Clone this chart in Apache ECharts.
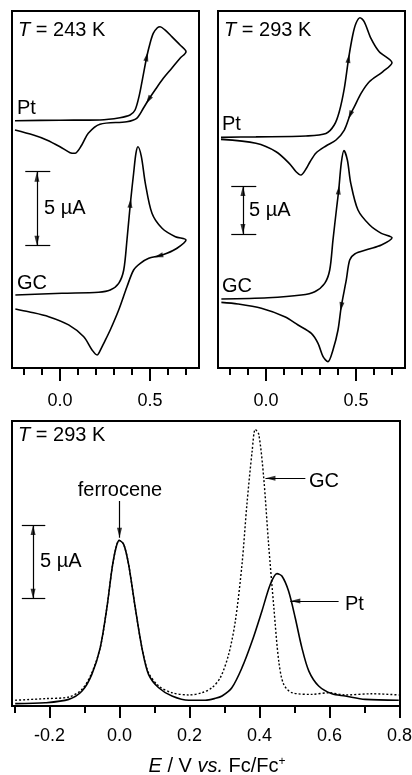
<!DOCTYPE html>
<html>
<head>
<meta charset="utf-8">
<script src="https://cdn.jsdelivr.net/npm/echarts@6/dist/echarts.min.js"></script>
<style>
html,body{margin:0;padding:0;background:#fff;}
#chart{width:412px;height:775px;}
</style>
</head>
<body>
<div id="chart"></div>
<script>
// ---------------- DATA ----------------
// x-axis tick values (V vs. Fc/Fc+)
const topMajorTicks = [0.0, 0.5];
const topMinorTicks = [-0.2, -0.1, 0.1, 0.2, 0.3, 0.4, 0.6, 0.7];
const botMajorTicks = [-0.2, 0.0, 0.2, 0.4, 0.6, 0.8];
const botMinorTicks = [-0.3, -0.1, 0.1, 0.3, 0.5, 0.7];

// Cyclic voltammograms, [E (V), I (µA)] in scan order (forward then reverse)
const cvPt243 = [
  [-0.25,16.71],[0.0,16.74],[0.222,16.76],[0.333,16.91],[0.389,17.09],[0.417,17.43],
  [0.441,18.45],[0.459,19.57],[0.482,21.03],[0.5,21.93],[0.518,22.61],[0.541,22.99],
  [0.556,23.06],[0.583,22.84],[0.621,22.39],[0.667,21.82],[0.7,21.37],
  [0.667,20.93],[0.621,20.25],[0.574,19.57],[0.528,18.78],[0.491,18.11],[0.463,17.55],
  [0.426,16.87],[0.371,16.64],[0.222,16.47],[0.157,15.86],[0.121,15.07],[0.083,14.51],
  [0.056,14.55],[0.0,14.95],[-0.074,15.41],[-0.148,15.74],[-0.25,16.08]
];
const cvGc243 = [
  [-0.248,4.93],[0.011,5.05],[0.215,5.12],[0.279,5.27],[0.326,5.72],[0.354,6.62],
  [0.372,8.65],[0.391,11.13],[0.409,13.16],[0.422,14.51],[0.433,14.95],[0.452,14.28],
  [0.474,12.48],[0.511,10.45],[0.567,9.44],[0.641,8.87],[0.7,8.65],
  [0.65,8.09],[0.594,7.75],[0.548,7.57],[0.493,7.41],[0.446,7.07],[0.409,6.62],
  [0.372,5.49],[0.326,3.92],[0.279,2.57],[0.243,1.67],[0.215,0.99],[0.206,0.88],
  [0.178,1.22],[0.132,2.11],[0.048,2.91],[-0.063,3.47],[-0.174,3.80],[-0.248,3.99]
];
const cvPt293 = [
  [-0.25,24.03],[-0.056,24.08],[0.222,24.17],[0.333,24.43],[0.379,25.31],[0.407,26.70],
  [0.435,29.14],[0.459,32.26],[0.482,34.69],[0.5,35.91],[0.522,36.49],[0.546,36.07],
  [0.583,34.34],[0.629,32.95],[0.7,31.80],
  [0.648,30.86],[0.574,29.82],[0.528,28.61],[0.491,27.22],[0.467,26.35],[0.435,24.79],
  [0.389,23.75],[0.333,23.13],[0.278,22.40],[0.244,21.46],[0.222,20.73],[0.194,20.10],
  [0.167,20.45],[0.129,21.32],[0.056,22.53],[-0.056,23.41],[-0.25,23.82]
];
const cvGc293 = [
  [-0.248,7.19],[0.011,7.32],[0.196,7.60],[0.271,7.95],[0.326,8.82],[0.354,10.21],
  [0.372,13.33],[0.391,16.46],[0.404,18.54],[0.418,21.32],[0.433,22.64],[0.452,21.67],
  [0.471,19.24],[0.511,16.46],[0.576,14.90],[0.641,14.03],[0.7,13.57],
  [0.641,12.81],[0.567,12.36],[0.493,11.88],[0.465,11.25],[0.446,9.17],[0.418,6.39],
  [0.4,3.96],[0.372,1.88],[0.344,0.66],[0.317,1.18],[0.289,2.57],[0.252,3.61],
  [0.178,4.48],[0.104,5.34],[-0.026,6.22],[-0.156,6.67],[-0.248,6.84]
];

// Differential pulse voltammograms at 293 K, [E (V), I (µA)]
const dpvPt = [
  [-0.298,0.16],[-0.212,0.22],[-0.145,0.45],[-0.107,1.02],[-0.079,2.15],[-0.055,3.96],
  [-0.036,6.67],[-0.021,9.38],[-0.010,10.74],[-0.001,11.24],[0.012,10.97],[0.026,9.61],
  [0.045,6.67],[0.064,3.96],[0.083,2.15],[0.112,1.24],[0.150,0.68],[0.198,0.39],
  [0.245,0.39],[0.274,0.52],[0.293,0.68],[0.321,1.24],[0.350,2.60],[0.379,4.41],
  [0.407,6.45],[0.431,8.26],[0.450,8.98],[0.464,8.82],[0.483,7.80],[0.502,5.99],
  [0.521,3.96],[0.541,2.37],[0.569,1.36],[0.607,0.83],[0.645,0.68],[0.702,0.45],[0.798,0.39]
];
const dpvGc = [
  [-0.298,0.39],[-0.212,0.50],[-0.145,0.61],[-0.107,1.13],[-0.079,2.26],[-0.055,3.96],
  [-0.036,6.67],[-0.021,9.38],[-0.010,10.74],[-0.001,11.24],[0.012,10.97],[0.026,9.61],
  [0.045,6.67],[0.064,3.96],[0.083,2.26],[0.112,1.36],[0.150,0.90],[0.198,0.75],
  [0.236,0.90],[0.264,1.24],[0.288,1.92],[0.312,3.51],[0.331,5.77],[0.350,9.61],
  [0.364,13.68],[0.379,17.30],[0.388,18.77],[0.398,18.43],[0.412,15.49],[0.426,10.97],
  [0.441,6.67],[0.455,3.05],[0.469,1.47],[0.493,0.90],[0.550,0.79],[0.598,0.90],
  [0.645,0.75],[0.721,0.83],[0.798,0.75]
];

// scale bar size (µA)
const scaleBarUA = 5;

// ---------------- STYLE / LAYOUT ----------------
const FONT = '"Liberation Sans", Arial, Helvetica, sans-serif';
const BLACK = '#000';
const ARROW = 'path://M0,0L1,3L-1,3Z';
const TXT = 20;

const chart = echarts.init(document.getElementById('chart'), null, {renderer: 'canvas'});

function xPair(gridIndex, min, max, major, minor, majorLen, minorLen, margin) {
  return [
    {type:'value', gridIndex, min, max, position:'bottom',
     axisLine:{show:false}, splitLine:{show:false},
     axisTick:{show:true, inside:false, length:majorLen, customValues:major, lineStyle:{color:BLACK, width:2}},
     axisLabel:{show:true, customValues:major, margin, color:BLACK, fontSize:18, fontFamily:FONT,
                formatter:v => Number(v).toFixed(1)}},
    {type:'value', gridIndex, min, max, position:'bottom',
     axisLine:{show:false}, splitLine:{show:false},
     axisTick:{show:true, inside:false, length:minorLen, customValues:minor, lineStyle:{color:BLACK, width:2}},
     axisLabel:{show:false}}
  ];
}

const grids = [
  {left:12, top:11, width:187, height:357},
  {left:218, top:11, width:187, height:357},
  {left:12, top:421, width:388, height:285}
].map(g => Object.assign(g, {show:true, borderColor:BLACK, borderWidth:2, backgroundColor:'transparent',
                              containLabel:false, outerBoundsMode:'none'}));

const xAxes = [].concat(
  xPair(0, -0.2667, 0.7722, topMajorTicks, topMinorTicks, 13, 7, 24),
  xPair(1, -0.2667, 0.7722, topMajorTicks, topMinorTicks, 13, 7, 24),
  xPair(2, -0.3071, 0.8014, botMajorTicks, botMinorTicks, 12, 7, 21)
);
const yAxes = [
  {type:'value', gridIndex:0, min:0, max:24.12, show:false},
  {type:'value', gridIndex:1, min:0, max:37.19, show:false},
  {type:'value', gridIndex:2, min:0, max:19.34, show:false}
];

function curve(data, xi, yi, dashed) {
  return {type:'line', xAxisIndex:xi, yAxisIndex:yi, data, showSymbol:false, symbol:'none',
          smooth:0.3, silent:true, z:3,
          lineStyle:{color:BLACK, width: dashed ? 1.4 : 1.6, type: dashed ? [2,2] : 'solid'}};
}

function scaleBar(xi, yi, E, I0, Ea, Eb) {
  const I1 = I0 + scaleBarUA;
  return [
    {type:'line', xAxisIndex:xi, yAxisIndex:yi, data:[], silent:true,
     markLine:{silent:true, animation:false, symbol:['none','none'], label:{show:false},
       lineStyle:{color:BLACK, width:1.2, type:'solid'}, emphasis:{disabled:true},
       data:[
         [{coord:[E, I0]}, {coord:[E, I1]}],
         [{coord:[Ea, I0]}, {coord:[Eb, I0]}],
         [{coord:[Ea, I1]}, {coord:[Eb, I1]}]
       ]}},
    {type:'scatter', xAxisIndex:xi, yAxisIndex:yi, silent:true, z:6, symbol:ARROW, symbolSize:[5,10],
     itemStyle:{color:BLACK},
     data:[{value:[E, I1], symbolRotate:0, symbolOffset:[0,5]},
           {value:[E, I0], symbolRotate:180, symbolOffset:[0,-5]}]}
  ];
}

function pointer(xi, yi, from, to, dir) {
  const rot = {down:180, left:90, up:0}[dir];
  const off = {down:[0,-5], left:[5,0], up:[0,5]}[dir];
  return [
    {type:'line', xAxisIndex:xi, yAxisIndex:yi, data:[], silent:true,
     markLine:{silent:true, animation:false, symbol:['none','none'], label:{show:false},
       lineStyle:{color:BLACK, width:1.2, type:'solid'}, emphasis:{disabled:true},
       data:[[{coord:from}, {coord:to}]]}},
    {type:'scatter', xAxisIndex:xi, yAxisIndex:yi, silent:true, z:6, symbol:ARROW, symbolSize:[5,10],
     itemStyle:{color:BLACK}, data:[{value:to, symbolRotate:rot, symbolOffset:off}]}
  ];
}

const baseSeries = [
  curve(cvPt243, 0, 0),
  curve(cvGc243, 0, 0),
  curve(cvPt293, 2, 1),
  curve(cvGc293, 2, 1),
  curve(dpvPt, 4, 2),
  curve(dpvGc, 4, 2, true)
].concat(
  scaleBar(0, 0, -0.128, 8.26, -0.193, -0.054),
  scaleBar(2, 1, -0.128, 13.96, -0.193, -0.054),
  scaleBar(4, 2, -0.247, 7.28, -0.279, -0.212),
  pointer(4, 2, [0.0, 13.91], [0.0, 11.42], 'down'),
  pointer(4, 2, [0.531, 15.45], [0.417, 15.45], 'left'),
  pointer(4, 2, [0.626, 7.12], [0.488, 7.12], 'left')
);

function txt(x, y, text, opts) {
  opts = opts || {};
  const size = opts.size || TXT;
  return {type:'text', x, y, silent:true, z:10,
    style:Object.assign({text, fill:BLACK, font:size+'px '+FONT,
      fontSize:size, fontFamily:FONT,
      align:opts.align||'left', verticalAlign:'middle',
      textAlign:opts.align||'left', textVerticalAlign:'middle'}, opts.rich ? {rich:opts.rich} : {})};
}
const richT = {i:{fontStyle:'italic', fontSize:TXT, fontFamily:FONT, fill:BLACK},
               n:{fontSize:TXT, fontFamily:FONT, fill:BLACK},
               s:{fontSize:12, fontFamily:FONT, fill:BLACK, padding:[0,0,9,0]}};

const graphics = [
  txt(18, 30, '{i|T}{n| = 243 K}', {rich:richT}),
  txt(17, 108, 'Pt'),
  txt(17, 283, 'GC'),
  txt(44, 208, '5 µA'),
  txt(224, 30, '{i|T}{n| = 293 K}', {rich:richT}),
  txt(222, 124.5, 'Pt'),
  txt(222, 286.5, 'GC'),
  txt(249, 210, '5 µA'),
  txt(18, 435.5, '{i|T}{n| = 293 K}', {rich:richT}),
  txt(120, 490, 'ferrocene', {align:'center'}),
  txt(309, 481, 'GC'),
  txt(345, 604, 'Pt'),
  txt(40, 561, '5 µA'),
  txt(217, 766, '{i|E}{n| / V }{i|vs.}{n| Fc/Fc}{s|+}', {rich:richT, align:'center'})
];

const option = {
  animation:false,
  backgroundColor:'#fff',
  grid:grids,
  xAxis:xAxes,
  yAxis:yAxes,
  series:baseSeries,
  graphic:{elements:graphics}
};
chart.setOption(option);

// CV scan-direction arrows: placed on data point i, oriented along the curve (i-1 -> i+1)
const cvArrowSpecs = [
  {s:0, data:cvPt243, i:8, xi:0, yi:0},
  {s:0, data:cvPt243, i:21, xi:0, yi:0},
  {s:1, data:cvGc243, i:7, xi:0, yi:0},
  {s:1, data:cvGc243, i:19, xi:0, yi:0},
  {s:2, data:cvPt293, i:7, xi:2, yi:1},
  {s:2, data:cvPt293, i:19, xi:2, yi:1},
  {s:3, data:cvGc293, i:8, xi:2, yi:1},
  {s:3, data:cvGc293, i:22, xi:2, yi:1}
];
const arrowSeries = cvArrowSpecs.map(a => {
  const p0 = chart.convertToPixel({seriesIndex:a.s}, a.data[a.i-1]);
  const p1 = chart.convertToPixel({seriesIndex:a.s}, a.data[a.i+1]);
  const dx = p1[0]-p0[0], dy = p1[1]-p0[1];
  const rot = Math.atan2(-dx, -dy) * 180 / Math.PI;
  return {type:'scatter', xAxisIndex:a.xi, yAxisIndex:a.yi, silent:true, z:6,
          symbol:ARROW, symbolSize:[5,9], itemStyle:{color:BLACK},
          data:[{value:a.data[a.i], symbolRotate:rot}]};
});
chart.setOption({series: baseSeries.concat(arrowSeries)});
</script>
</body>
</html>
